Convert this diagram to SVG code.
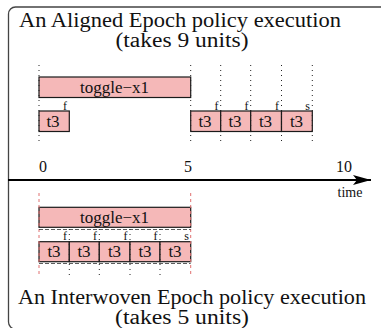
<svg xmlns="http://www.w3.org/2000/svg" width="381" height="328" viewBox="0 0 381 328">
<defs>
<style>
.frame{fill:none;stroke:#444;stroke-width:1.3}
.title{font-family:"Liberation Serif","Times New Roman",serif;font-size:20px;fill:#111;text-anchor:middle}
.box{fill:#f5b8b8;stroke:#1a1a1a;stroke-width:1.2}
.lbl{font-family:"Liberation Serif","Times New Roman",serif;font-size:17px;fill:#111;text-anchor:middle}
.sm{font-family:"Liberation Serif","Times New Roman",serif;font-size:12px;fill:#111;text-anchor:end}
.dot{stroke:#222;stroke-width:1;stroke-dasharray:1 4;fill:none}
.red{stroke:#e07070;stroke-width:1;stroke-dasharray:3 3;fill:none}
.hd{stroke:#333;stroke-width:0.8;stroke-dasharray:4 2;fill:none}
.ax{font-family:"Liberation Serif","Times New Roman",serif;font-size:16px;fill:#111;text-anchor:middle}
.axis{stroke:#000;stroke-width:2;fill:none}
</style>
<marker id="arr" markerUnits="userSpaceOnUse" markerWidth="20" markerHeight="12" refX="18" refY="5" orient="auto">
<path d="M0,0 L18,5 L0,10 L4,5 z" fill="#000"/>
</marker>
</defs>
<rect class="frame" x="8.5" y="7" width="400" height="322" rx="7"/>
<g id="title-top">
<text class="title" x="180" y="27" textLength="322" lengthAdjust="spacingAndGlyphs">An Aligned Epoch policy execution</text>
<text class="title" x="182" y="47" textLength="133" lengthAdjust="spacingAndGlyphs">(takes 9 units)</text>
</g>
<g id="toggle-top">
<rect class="box" x="39" y="77" width="151.7" height="20.5"/>
<text class="lbl" x="114.5" y="92.5">toggle−x1</text>
</g>
<g id="t3-top-1">
<rect class="box" x="39" y="111" width="30.3" height="20.5"/>
<text class="lbl" x="53" y="126.5">t3</text>
<text class="sm" x="67" y="110">f</text>
</g>
<g id="t3-top-2">
<rect class="box" x="190.7" y="111" width="30" height="20.5"/>
<text class="lbl" x="205" y="126.5">t3</text>
<text class="sm" x="218.5" y="110">f</text>
</g>
<g id="t3-top-3">
<rect class="box" x="220.7" y="111" width="30" height="20.5"/>
<text class="lbl" x="235" y="126.5">t3</text>
<text class="sm" x="248.5" y="110">f</text>
</g>
<g id="t3-top-4">
<rect class="box" x="250.7" y="111" width="30.8" height="20.5"/>
<text class="lbl" x="265.5" y="126.5">t3</text>
<text class="sm" x="279" y="110">f</text>
</g>
<g id="t3-top-5">
<rect class="box" x="281.5" y="111" width="30.8" height="20.5"/>
<text class="lbl" x="296.5" y="126.5">t3</text>
<text class="sm" x="310" y="110">s</text>
</g>
<g id="axis-labels">
<text class="ax" x="43" y="172">0</text>
<text class="ax" x="188" y="172">5</text>
<text class="ax" x="344" y="172">10</text>
<text class="ax" x="350" y="197" style="font-size:14px">time</text>
</g>
<g id="toggle-bottom">
<rect class="box" x="39" y="207.3" width="151.7" height="20"/>
<text class="lbl" x="114.5" y="222.5">toggle−x1</text>
</g>
<g id="t3-bottom-1">
<rect class="box" x="39" y="241.7" width="30.3" height="20"/>
<text class="lbl" x="54" y="257">t3</text>
<text class="sm" x="67" y="240">f</text>
</g>
<g id="t3-bottom-2">
<rect class="box" x="69.3" y="241.7" width="30" height="20"/>
<text class="lbl" x="84" y="257">t3</text>
<text class="sm" x="97" y="240">f</text>
</g>
<g id="t3-bottom-3">
<rect class="box" x="99.3" y="241.7" width="30.7" height="20"/>
<text class="lbl" x="114.5" y="257">t3</text>
<text class="sm" x="127.5" y="240">f</text>
</g>
<g id="t3-bottom-4">
<rect class="box" x="130" y="241.7" width="30" height="20"/>
<text class="lbl" x="145" y="257">t3</text>
<text class="sm" x="157.5" y="240">f</text>
</g>
<g id="t3-bottom-5">
<rect class="box" x="160" y="241.7" width="30.7" height="20"/>
<text class="lbl" x="175" y="257">t3</text>
<text class="sm" x="189" y="240">s</text>
</g>
<g id="title-bottom">
<text class="title" x="192" y="304" textLength="348" lengthAdjust="spacingAndGlyphs">An Interwoven Epoch policy execution</text>
<text class="title" x="182" y="324" textLength="134" lengthAdjust="spacingAndGlyphs">(takes 5 units)</text>
</g>
<g id="connectors">
<line class="axis" x1="8" y1="180" x2="371" y2="180" marker-end="url(#arr)"/>
<line class="dot" x1="39" y1="65" x2="39" y2="144"/>
<line class="dot" x1="190.7" y1="65" x2="190.7" y2="144"/>
<line class="dot" x1="220.7" y1="65" x2="220.7" y2="144"/>
<line class="dot" x1="250.7" y1="65" x2="250.7" y2="144"/>
<line class="dot" x1="281.5" y1="65" x2="281.5" y2="144"/>
<line class="dot" x1="312.3" y1="65" x2="312.3" y2="144"/>
<line class="red" x1="39" y1="193" x2="39" y2="277"/>
<line class="red" x1="190.7" y1="193" x2="190.7" y2="277"/>
<line class="dot" x1="69.3" y1="229" x2="69.3" y2="277"/>
<line class="dot" x1="99.3" y1="229" x2="99.3" y2="277"/>
<line class="dot" x1="130" y1="229" x2="130" y2="277"/>
<line class="dot" x1="160" y1="229" x2="160" y2="277"/>
<line class="hd" x1="39" y1="229.5" x2="190.7" y2="229.5"/>
<line class="hd" x1="39" y1="263.5" x2="190.7" y2="263.5"/>
</g>
</svg>
